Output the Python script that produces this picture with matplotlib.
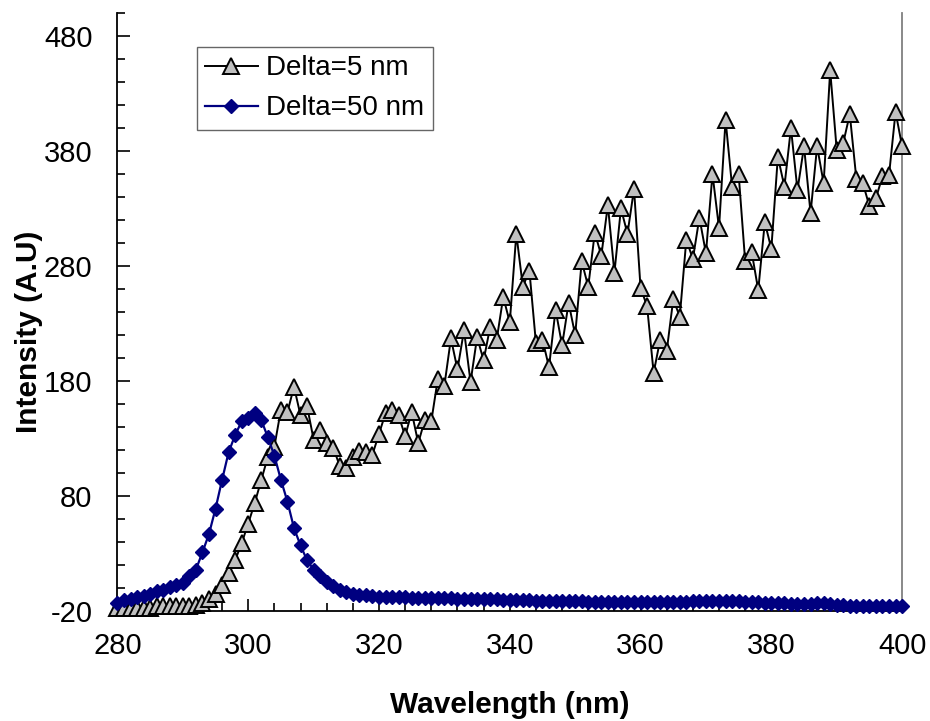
import numpy as np
import matplotlib
matplotlib.use("Agg")
import matplotlib.pyplot as plt
from matplotlib.ticker import MultipleLocator

plt.rcParams['font.family'] = ['Liberation Sans', 'DejaVu Sans']
plt.rcParams['axes.unicode_minus'] = False

wavelength = list(range(280, 401))

delta5 = [
    -17, -17, -17, -17, -17, -17, -16, -16, -16, -16,      # 280-289
    -16, -16, -15, -13, -10, -5, 3, 13, 24, 39,             # 290-299
    56, 74, 94, 114, 123, 155, 153, 175, 150, 158,          # 300-309
    129, 137, 126, 122, 106, 104, 114, 119, 118, 116,       # 310-319
    134, 152, 155, 150, 132, 153, 126, 146, 145, 182,       # 320-329
    176, 217, 190, 224, 179, 218, 198, 227, 216, 253,       # 330-339
    231, 308, 262, 276, 213, 216, 192, 242, 211, 248,       # 340-349
    220, 284, 262, 309, 289, 333, 274, 330, 308, 347,       # 350-359
    261, 245, 187, 216, 206, 251, 236, 303, 286, 322,       # 360-369
    291, 360, 313, 407, 349, 360, 284, 292, 259, 318,       # 370-379
    295, 375, 349, 400, 346, 384, 326, 384, 352, 450,       # 380-389
    381, 387, 412, 356, 352, 332, 339, 358, 359, 414,       # 390-399
    384,                                                    # 400
]

delta50 = [
    -13, -10.5, -10, -8, -7, -5.5, -3, -1.5, 0.5, 2.5,                  # 280-289
    4.5, 10, 16, 31, 47, 69, 94, 118, 133, 145,                         # 290-299
    148, 152, 146, 131, 115, 94, 75, 52, 37, 24,                        # 300-309
    16, 10, 5.5, 1.5, -1.5, -3.5, -5, -6, -6.5, -7,                     # 310-319
    -7.5, -7.5, -8, -8, -8, -8.5, -8.5, -8.5, -9, -9,                   # 320-329
    -9, -9, -9.5, -9.5, -9.5, -10, -10, -10, -10, -10.5,                # 330-339
    -10.5, -10.5, -10.5, -10.5, -11, -11, -11, -11, -11, -11.5,         # 340-349
    -11.5, -11.5, -12, -12, -12, -12, -12.5, -12.5, -12.5, -12.5,       # 350-359
    -12.5, -12.5, -12.5, -12.5, -12.5, -12.5, -12, -12, -11.5, -11.5,   # 360-369
    -11.5, -11.5, -11.5, -11, -11.5, -11.5, -12, -12, -12.5, -13,       # 370-379
    -13, -13, -13, -13.5, -13.5, -13.5, -13.5, -13, -13, -14,           # 380-389
    -15, -15, -15.5, -15.5, -15.5, -16, -16, -16, -16, -16,             # 390-399
    -16,                                                                # 400
]

x_ticks = [280, 300, 320, 340, 360, 380, 400]
y_ticks = [-20, 80, 180, 280, 380, 480]

fig = plt.figure(figsize=(9.30, 7.21), dpi=100)
ax = fig.add_axes([0.1263, 0.1526, 0.8437, 0.8294])

ax.plot(wavelength, delta5, color='black', lw=1.4, marker='^', markersize=12,
        markerfacecolor='#c0c0c0', markeredgecolor='black', markeredgewidth=1.4,
        label='Delta=5 nm', clip_on=False, zorder=3)
ax.plot(wavelength, delta50, color='#000080', lw=1.6, marker='D', markersize=7.5,
        markerfacecolor='#000080', markeredgecolor='#000080',
        label='Delta=50 nm', clip_on=False, zorder=4)

ax.set_xlim(280, 400)
ax.set_ylim(-20, 500)
ax.set_xticks(x_ticks)
ax.set_yticks(y_ticks)
ax.xaxis.set_minor_locator(MultipleLocator(4))
ax.yaxis.set_minor_locator(MultipleLocator(20))
ax.tick_params(axis='both', which='both', direction='in', top=False, right=False)
ax.tick_params(axis='both', which='major', length=9, width=1.2, labelsize=21)
ax.tick_params(axis='both', which='minor', length=6, width=1.2)
ax.tick_params(axis='x', which='major', pad=15)
ax.tick_params(axis='y', which='major', pad=18)

for side in ('left', 'bottom'):
    ax.spines[side].set_color('black')
    ax.spines[side].set_linewidth(1.3)
ax.spines['right'].set_color('#808080')
ax.spines['right'].set_linewidth(1.3)
ax.spines['top'].set_visible(False)

ax.set_xlabel('Wavelength (nm)', fontsize=21.5, fontweight='bold')
ax.set_ylabel('Intensity (A.U)', fontsize=21.5, fontweight='bold')
ax.xaxis.set_label_coords(0.5, -0.133)
ax.yaxis.set_label_coords(-0.095, 0.466)

leg = ax.legend(loc='upper left', bbox_to_anchor=(0.101, 0.943), fontsize=20,
                frameon=True, fancybox=False, edgecolor='#404040',
                handlelength=1.9, borderpad=0.3, labelspacing=0.5,
                handletextpad=0.3, borderaxespad=0)
leg.get_frame().set_linewidth(1.0)

fig.savefig('out.png', dpi=100)
